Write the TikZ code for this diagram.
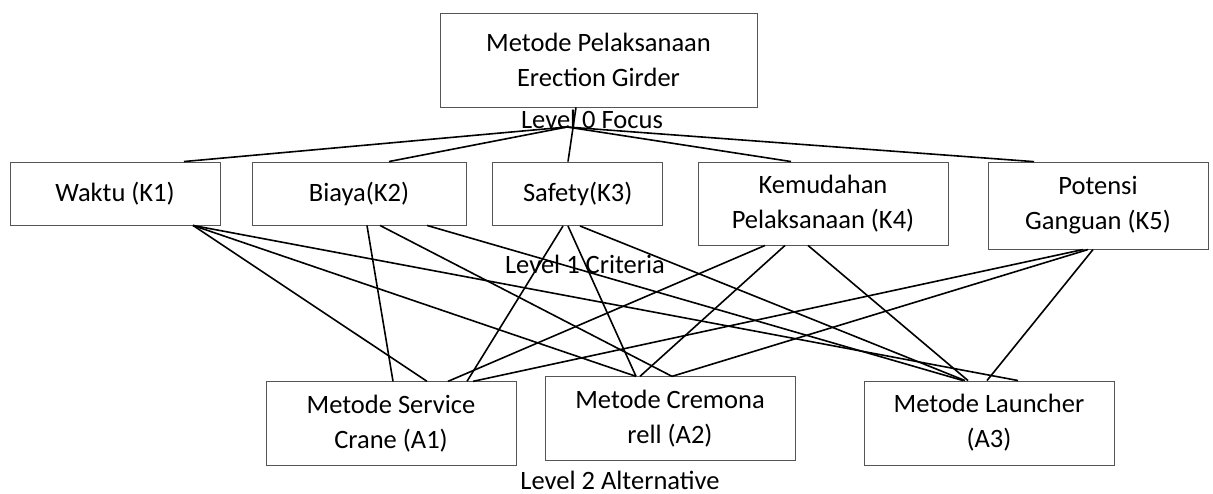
\documentclass[tikz,border=0pt]{standalone}
\usepackage{fontspec}
\setmainfont{Carlito}
\begin{document}
\begin{tikzpicture}[x=1pt,y=-1pt,
  box/.style={draw={rgb,255:red,85;green,85;blue,85}, line width=0.9pt, align=center, inner sep=0pt, font=\fontsize{26.5}{35}\selectfont},
  lbl/.style={anchor=base, inner sep=0pt, font=\fontsize{26.5}{35}\selectfont},
  link/.style={line width=1.6pt, black}]
\useasboundingbox (0,0) rectangle (1213,494);
% boxes
\node[box, minimum width=317pt, minimum height=94pt] (T) at (598.5,60) {Metode Pelaksanaan\\Erection Girder};
\node[box, minimum width=210pt, minimum height=63pt] (K1) at (115,193.5) {Waktu (K1)};
\node[box, minimum width=214pt, minimum height=63pt] (K2) at (359,193.5) {Biaya(K2)};
\node[box, minimum width=170pt, minimum height=63.5pt] (K3) at (577.7,193.8) {Safety(K3)};
\node[box, minimum width=250pt, minimum height=83pt] (K4) at (823,203.5) {Kemudahan\\Pelaksanaan (K4)};
\node[box, minimum width=220pt, minimum height=87pt] (K5) at (1098,205.6) {Potensi\\Ganguan (K5)};
\node[box, minimum width=250pt, minimum height=84pt] (A1) at (391,423.8) {Metode Service\\Crane (A1)};
\node[box, minimum width=250pt, minimum height=84pt] (A2) at (670,418.8) {Metode Cremona\\rell (A2)};
\node[box, minimum width=250pt, minimum height=84pt] (A3) at (989,423) {Metode Launcher\\(A3)};
% level labels
\node[lbl] (L0) at (592,129) {Level 0 Focus};
\node[lbl] (L1) at (585,274) {Level 1 Criteria};
\node[lbl] (L2) at (620,489) {Level 2 Alternative};
% top connectors
\coordinate (hub) at (567,127);
\draw[link] (T.south -| 576,0) -- (K3.north -| 568,0);
\draw[link] (hub) -- (K1.north -| 184,0);
\draw[link] (hub) -- (K2.north -| 389,0);
\draw[link] (hub) -- (K4.north -| 791,0);
\draw[link] (hub) -- (K5.north -| 1034,0);
% criteria to alternatives
\foreach \k/\kx/\a/\ax in {
  K1/193/A1/427, K1/193/A2/636, K1/193/A3/1018,
  K2/367/A1/393, K2/380/A2/672, K2/427/A3/963,
  K3/563/A1/467, K3/568/A2/636, K3/580/A3/965,
  K4/765/A1/448, K4/785/A2/640, K4/808/A3/968,
  K5/1083/A1/473, K5/1088/A2/672, K5/1093/A3/987}
  \draw[link] (\k.south -| \kx,0) -- (\a.north -| \ax,0);
\end{tikzpicture}
\end{document}
